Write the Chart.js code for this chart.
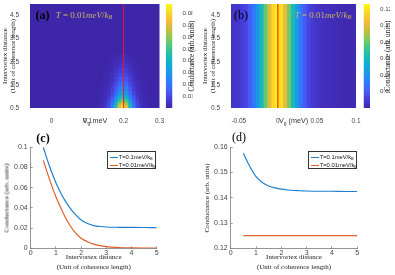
<!DOCTYPE html>
<html><head><meta charset="utf-8">
<script src="https://cdn.jsdelivr.net/npm/chart.js@4.4.1/dist/chart.umd.min.js"></script>
<style>
html,body{margin:0;padding:0;background:#fff;}
body{width:395px;height:275px;position:relative;overflow:hidden;}
canvas{position:absolute;left:0;top:0;z-index:1;}
.t{position:absolute;z-index:5;white-space:nowrap;line-height:1;transform:translate(-50%,-50%);}
.serif{font-family:"Liberation Serif","Times New Roman",serif;color:#1a1a1a;}
.sans{font-family:"Liberation Sans",Arial,sans-serif;color:#333;}
.rot{transform:translate(-50%,-50%) rotate(-90deg);text-align:center;}
.lbl{font-family:"Liberation Serif","Times New Roman",serif;font-size:12px;color:#000;}
.ann{font-family:"Liberation Serif","Times New Roman",serif;font-size:9px;color:#cdb85e;}
.leg{position:absolute;z-index:5;background:#fff;border:0.7px solid #333;box-sizing:border-box;}
.leg .row{position:absolute;left:0;height:8px;width:100%;}
.leg .ln{position:absolute;left:2px;width:8px;top:3.5px;height:1.2px;}
.leg .tx{position:absolute;left:11px;top:0;font-family:"Liberation Sans",Arial,sans-serif;font-size:5.8px;line-height:8px;color:#111;white-space:nowrap;}
sub{font-size:70%;vertical-align:-0.25em;line-height:0;}
</style></head><body>

<!-- panel (a) texts -->
<div class="t lbl" style="left:42.5px;top:15px;font-weight:bold;">(a)</div>
<div class="t ann" style="left:84px;top:15px;"><i>T</i> = 0.01<i>meV</i>/<i>k<sub>B</sub></i></div>
<div class="t serif rot" style="left:8.5px;top:56px;font-size:7px;line-height:8px;">Intervortex distance<br>(Unit of coherence length)</div>
<div class="t sans" style="left:95px;top:121px;font-size:7.2px;">V<sub>g</sub> meV</div>
<div class="t serif rot" style="left:193px;top:56px;font-size:7.2px;">Conductance (arb. units)</div>

<!-- panel (b) texts -->
<div class="t lbl" style="left:241px;top:15px;">(b)</div>
<div class="t ann" style="left:323px;top:15px;"><i>T</i> = 0.01<i>meV</i>/<i>k<sub>B</sub></i></div>
<div class="t serif rot" style="left:208.5px;top:56px;font-size:7px;line-height:8px;">Intervortex distance<br>(Unit of coherence length)</div>
<div class="t sans" style="left:293.5px;top:121px;font-size:7.2px;">V<sub>g</sub> (meV)</div>
<div class="t serif rot" style="left:389px;top:56px;font-size:7.2px;">Conductance (arb. units)</div>

<!-- panel (c) texts -->
<div class="t lbl" style="left:43px;top:138px;font-weight:bold;">(c)</div>
<div class="t serif rot" style="left:7px;top:198px;font-size:7px;">Conductance (arb. units)</div>
<div class="t serif" style="left:93.7px;top:257px;font-size:7px;">Intervortex distance</div>
<div class="t serif" style="left:93.7px;top:267px;font-size:7px;">(Unit of coherence length)</div>
<div class="leg" style="left:106.7px;top:150.7px;width:49.5px;height:18.6px;">
  <div class="row" style="top:1.5px;"><div class="ln" style="background:#1f7fcc"></div><div class="tx">T=0.1meV/k<sub>B</sub></div></div>
  <div class="row" style="top:9.5px;"><div class="ln" style="background:#e0602a"></div><div class="tx">T=0.01meV/k<sub>B</sub></div></div>
</div>

<!-- panel (d) texts -->
<div class="t lbl" style="left:239px;top:137px;">(d)</div>
<div class="t serif rot" style="left:207px;top:198px;font-size:7px;">Conductance (arb. units)</div>
<div class="t serif" style="left:294px;top:257px;font-size:7px;">Intervortex distance</div>
<div class="t serif" style="left:294px;top:267px;font-size:7px;">(Unit of coherence length)</div>
<div class="leg" style="left:307.7px;top:150.7px;width:49.5px;height:18.6px;">
  <div class="row" style="top:1.5px;"><div class="ln" style="background:#1f7fcc"></div><div class="tx">T=0.1meV/k<sub>B</sub></div></div>
  <div class="row" style="top:9.5px;"><div class="ln" style="background:#e0602a"></div><div class="tx">T=0.01meV/k<sub>B</sub></div></div>
</div>

<script>
// ---------------- DATA ----------------
// (a) heatmap: conductance vs gate voltage (columns) and intervortex distance (row bands)
const aVg = [0.14, 0.15, 0.16, 0.17, 0.18, 0.19, 0.20, 0.21, 0.22, 0.23, 0.24, 0.25, 0.26];
const aRowEdges = [0.5, 0.6, 0.7, 0.8, 0.9, 1.0, 1.2, 1.4, 1.6, 1.8, 2.0, 2.2, 2.4, 2.6, 2.8];
const aConductance = [
  [0.002, 0.004, 0.010, 0.022, 0.043, 0.070, 0.085, 0.070, 0.043, 0.022, 0.010, 0.004, 0.002],
  [0.0015, 0.004, 0.009, 0.020, 0.038, 0.062, 0.076, 0.062, 0.038, 0.020, 0.009, 0.004, 0.0015],
  [0.0013, 0.003, 0.008, 0.017, 0.032, 0.052, 0.064, 0.052, 0.032, 0.017, 0.008, 0.003, 0.0013],
  [0.001, 0.003, 0.006, 0.014, 0.027, 0.044, 0.054, 0.044, 0.027, 0.014, 0.006, 0.003, 0.001],
  [0.001, 0.002, 0.005, 0.012, 0.022, 0.037, 0.045, 0.037, 0.022, 0.012, 0.005, 0.002, 0.001],
  [0.0007, 0.002, 0.004, 0.009, 0.018, 0.029, 0.036, 0.029, 0.018, 0.009, 0.004, 0.002, 0.0007],
  [0.0005, 0.0013, 0.003, 0.007, 0.013, 0.022, 0.027, 0.022, 0.013, 0.007, 0.003, 0.0013, 0.0005],
  [0.0004, 0.001, 0.0024, 0.005, 0.010, 0.016, 0.020, 0.016, 0.010, 0.005, 0.0024, 0.001, 0.0004],
  [0.0003, 0.0007, 0.0018, 0.0039, 0.0075, 0.012, 0.015, 0.012, 0.0075, 0.0039, 0.0018, 0.0007, 0.0003],
  [0, 0.0005, 0.0013, 0.0029, 0.0055, 0.009, 0.011, 0.009, 0.0055, 0.0029, 0.0013, 0.0005, 0],
  [0, 0.0004, 0.001, 0.0021, 0.004, 0.0066, 0.008, 0.0066, 0.004, 0.0021, 0.001, 0.0004, 0],
  [0, 0, 0.0007, 0.0014, 0.0028, 0.0045, 0.0055, 0.0045, 0.0028, 0.0014, 0.0007, 0, 0],
  [0, 0, 0.0004, 0.0009, 0.0018, 0.0029, 0.0035, 0.0029, 0.0018, 0.0009, 0.0004, 0, 0],
  [0, 0, 0, 0.0005, 0.001, 0.0016, 0.002, 0.0016, 0.001, 0.0005, 0, 0, 0]
];
const aXTicks = [0, 0.1, 0.2, 0.3];
const aYTicks = [0.5, 1.5, 2.5, 3.5, 4.5];
const aColorTicks = [0.01, 0.02, 0.03, 0.04, 0.05, 0.06, 0.07, 0.08];
const aColorMax = 0.088;
const aMarkerVg = 0.2;

// (b) heatmap: conductance depends only on gate voltage
const bVg = [-0.06, -0.055, -0.05, -0.045, -0.04, -0.035, -0.03, -0.025, -0.02, -0.015, -0.01, -0.005, 0,
             0.005, 0.01, 0.015, 0.02, 0.025, 0.03, 0.035, 0.04, 0.045, 0.05, 0.055, 0.06, 0.065, 0.07,
             0.075, 0.08, 0.085, 0.09, 0.095, 0.1];
const bConductance = [0.006, 0.007, 0.008, 0.010, 0.014, 0.020, 0.030, 0.043, 0.060, 0.080, 0.100, 0.116, 0.124,
             0.118, 0.102, 0.082, 0.062, 0.044, 0.030, 0.020, 0.013, 0.009, 0.007, 0.0055, 0.0045, 0.0038, 0.0032,
             0.0027, 0.0023, 0.002, 0.0017, 0.0015, 0.0013];
const bXTicks = [-0.05, 0, 0.05, 0.1];
const bYTicks = [0.5, 1.5, 2.5, 3.5, 4.5];
const bColorTicks = [0.02, 0.04, 0.06, 0.08, 0.1, 0.12];
const bColorMax = 0.126;
const bMarkerVg = 0;

// (c), (d) line plots
const distance = [0.5, 0.75, 1, 1.25, 1.5, 1.75, 2, 2.25, 2.5, 2.75, 3, 3.5, 4, 4.5, 5];
const cHighT = [0.100, 0.081, 0.065, 0.052, 0.042, 0.034, 0.028, 0.0245, 0.0225, 0.0216, 0.0211, 0.0208, 0.0207, 0.0206, 0.0205];
const cLowT  = [0.087, 0.068, 0.051, 0.037, 0.025, 0.016, 0.010, 0.0065, 0.0042, 0.0027, 0.0017, 0.0008, 0.0004, 0.0002, 0.0001];
const dHighT = [0.1576, 0.1525, 0.1484, 0.1461, 0.1447, 0.1439, 0.1434, 0.1431, 0.1429, 0.1428, 0.1427, 0.1426, 0.1426, 0.1425, 0.1425];
const dLowT  = [0.125, 0.125, 0.125, 0.125, 0.125, 0.125, 0.125, 0.125, 0.125, 0.125, 0.125, 0.125, 0.125, 0.125, 0.125];
const cXTicks = [0, 1, 2, 3, 4, 5];
const cYTicks = [0, 0.02, 0.04, 0.06, 0.08, 0.1];
const dYTicks = [0.12, 0.13, 0.14, 0.15, 0.16];
const seriesNames = ['T=0.1meV/kB', 'T=0.01meV/kB'];

// ---------------- STYLE / HELPERS ----------------
const W = 395, H = 275;
const BLUE = '#1f7fcc', ORANGE = '#e0602a';
const PARULA = [
  [0.00, [62, 38, 168]], [0.08, [70, 60, 215]], [0.16, [70, 92, 245]], [0.25, [45, 125, 250]],
  [0.33, [30, 150, 230]], [0.42, [15, 174, 210]], [0.50, [28, 189, 180]], [0.58, [62, 199, 140]],
  [0.67, [132, 200, 90]], [0.75, [198, 190, 60]], [0.83, [246, 186, 60]], [0.92, [250, 216, 40]],
  [1.00, [249, 251, 14]]
];
function parula(t) {
  t = Math.max(0, Math.min(1, t));
  for (let i = 1; i < PARULA.length; i++) {
    if (t <= PARULA[i][0]) {
      const [t0, c0] = PARULA[i - 1], [t1, c1] = PARULA[i];
      const f = (t - t0) / (t1 - t0);
      return 'rgb(' + c0.map((c, k) => Math.round(c + (c1[k] - c) * f)).join(',') + ')';
    }
  }
  return 'rgb(249,251,14)';
}
function addCanvas() {
  const c = document.createElement('canvas');
  c.width = W; c.height = H; c.style.width = W + 'px'; c.style.height = H + 'px';
  document.body.appendChild(c);
  return c.getContext('2d');
}
const bgPlugin = {
  id: 'bg',
  beforeDatasetsDraw(chart, args, opts) {
    if (!opts || !opts.color) return;
    const {ctx, chartArea: a} = chart;
    ctx.save(); ctx.fillStyle = opts.color;
    ctx.fillRect(a.left, a.top, a.right - a.left, a.bottom - a.top);
    ctx.restore();
  }
};
const sansFam = '"Liberation Sans", Arial, sans-serif';
const base = {responsive: false, animation: false, devicePixelRatio: 1, events: []};
const fmt = v => String(v);

function heatScales(box, xMin, xMax, xTicks, yTicks) {
  return {
    x: {
      type: 'linear', min: xMin, max: xMax, offset: false, bounds: 'data',
      grid: {display: false, offset: false}, border: {display: false},
      afterBuildTicks: s => { s.ticks = xTicks.map(v => ({value: v})); },
      afterFit: s => { s.height = box.xH; s.paddingLeft = 0; s.paddingRight = 0; },
      ticks: {font: {family: sansFam, size: 6.5}, color: '#444', padding: 1, maxRotation: 0, autoSkip: false, callback: fmt}
    },
    y: {
      type: 'linear', min: 0.5, max: 5, bounds: 'data',
      grid: {display: false}, border: {display: false},
      afterBuildTicks: s => { s.ticks = yTicks.map(v => ({value: v})); },
      afterFit: s => { s.width = box.yW; s.paddingTop = 0; s.paddingBottom = 0; },
      ticks: {font: {family: sansFam, size: 6.5}, color: '#444', padding: 3, autoSkip: false, callback: fmt}
    }
  };
}
function boxPadding(b) {
  return {left: b.l - b.yW, top: b.t, right: W - b.r, bottom: H - b.b - b.xH};
}

// ---------------- (a) heatmap ----------------
(function () {
  const box = {l: 30, t: 4, r: 159.5, b: 108, yW: 30, xH: 20};
  const datasets = aConductance.map((row, i) => ({
    type: 'bar', order: 2, grouped: false, barPercentage: 1, categoryPercentage: 1,
    inflateAmount: 0.6, borderWidth: 0,
    data: aVg.map(x => ({x: x, y: [aRowEdges[i], aRowEdges[i + 1]]})),
    backgroundColor: row.map(v => parula(v / aColorMax))
  }));
  datasets.push({
    type: 'line', order: 0, data: [{x: aMarkerVg, y: 0.5}, {x: aMarkerVg, y: 5}],
    borderColor: 'rgba(214,28,60,0.9)', borderWidth: 1.2, pointRadius: 0
  });
  new Chart(addCanvas(), {
    type: 'bar', data: {datasets},
    plugins: [bgPlugin],
    options: Object.assign({}, base, {
      layout: {padding: boxPadding(box)},
      plugins: {legend: {display: false}, tooltip: {enabled: false}, bg: {color: parula(0)}},
      scales: heatScales(box, -0.06, 0.3, aXTicks, aYTicks)
    })
  });
})();

// ---------------- (b) heatmap ----------------
(function () {
  const box = {l: 231, t: 4, r: 356, b: 108, yW: 36, xH: 20};
  const datasets = [{
    type: 'bar', order: 2, grouped: false, barPercentage: 1, categoryPercentage: 1,
    inflateAmount: 0.6, borderWidth: 0,
    data: bVg.map(x => ({x: x, y: [0.5, 5]})),
    backgroundColor: bConductance.map(v => parula(v / bColorMax))
  }, {
    type: 'line', order: 0, data: [{x: bMarkerVg, y: 0.5}, {x: bMarkerVg, y: 5}],
    borderColor: '#ff1a1a', borderWidth: 1.2, pointRadius: 0
  }];
  new Chart(addCanvas(), {
    type: 'bar', data: {datasets},
    plugins: [bgPlugin],
    options: Object.assign({}, base, {
      layout: {padding: boxPadding(box)},
      plugins: {legend: {display: false}, tooltip: {enabled: false}, bg: {color: parula(0)}},
      scales: heatScales(box, -0.06, 0.1, bXTicks, bYTicks)
    })
  });
})();

// ---------------- colorbars ----------------
function colorbar(box, cmax, ticks) {
  new Chart(addCanvas(), {
    type: 'bar',
    data: {labels: ['cb'], datasets: [{
      data: [[0, cmax]], barPercentage: 1, categoryPercentage: 1, borderWidth: 0, inflateAmount: 0,
      backgroundColor: (ctx) => {
        const a = ctx.chart.chartArea;
        if (!a) return parula(0.5);
        const g = ctx.chart.ctx.createLinearGradient(0, a.bottom, 0, a.top);
        PARULA.forEach(([t, c]) => g.addColorStop(t, 'rgb(' + c.join(',') + ')'));
        return g;
      }
    }]},
    options: Object.assign({}, base, {
      layout: {padding: {left: box.l, top: box.t, right: W - box.r - box.yW, bottom: H - box.b}},
      plugins: {legend: {display: false}, tooltip: {enabled: false}},
      scales: {
        x: {display: false},
        y: {
          position: 'right', min: 0, max: cmax, bounds: 'data',
          grid: {display: false}, border: {display: false},
          afterBuildTicks: s => { s.ticks = ticks.map(v => ({value: v})); },
          afterFit: s => { s.width = box.yW; s.paddingTop = 0; s.paddingBottom = 0; },
          ticks: {font: {family: sansFam, size: 6.2}, color: '#444', padding: 2, autoSkip: false, callback: fmt}
        }
      }
    })
  });
}
colorbar({l: 165.7, t: 4, r: 172.5, b: 108, yW: 20}, aColorMax, aColorTicks);
colorbar({l: 363.5, t: 4, r: 370, b: 108, yW: 20}, bColorMax, bColorTicks);

// ---------------- line charts ----------------
function lineChart(box, high, low, yMin, yMax, yTicks) {
  const ds = (vals, color, name) => ({
    label: name, data: distance.map((x, i) => ({x: x, y: vals[i]})),
    borderColor: color, borderWidth: 1.2, pointRadius: 0, fill: false,
    cubicInterpolationMode: 'monotone'
  });
  new Chart(addCanvas(), {
    type: 'line',
    data: {datasets: [ds(high, BLUE, seriesNames[0]), ds(low, ORANGE, seriesNames[1])]},
    options: Object.assign({}, base, {
      layout: {padding: boxPadding(box)},
      plugins: {legend: {display: false}, tooltip: {enabled: false}},
      scales: {
        x: {
          type: 'linear', min: 0, max: 5, bounds: 'data',
          grid: {display: true, drawOnChartArea: false, drawTicks: true, tickLength: -2, tickColor: '#7a7a7a', tickWidth: 0.7},
          border: {display: true, color: '#7a7a7a', width: 0.8},
          afterBuildTicks: s => { s.ticks = cXTicks.map(v => ({value: v})); },
          afterFit: s => { s.height = box.xH; s.paddingLeft = 0; s.paddingRight = 0; },
          ticks: {font: {family: sansFam, size: 7}, color: '#444', padding: 3, maxRotation: 0, autoSkip: false, callback: fmt}
        },
        y: {
          type: 'linear', min: yMin, max: yMax, bounds: 'data',
          grid: {display: true, drawOnChartArea: false, drawTicks: true, tickLength: -2, tickColor: '#7a7a7a', tickWidth: 0.7},
          border: {display: true, color: '#7a7a7a', width: 0.8},
          afterBuildTicks: s => { s.ticks = yTicks.map(v => ({value: v})); },
          afterFit: s => { s.width = box.yW; s.paddingTop = 0; s.paddingBottom = 0; },
          ticks: {font: {family: sansFam, size: 7}, color: '#444', padding: 5, autoSkip: false, callback: fmt}
        }
      }
    })
  });
}
lineChart({l: 30.7, t: 147.3, r: 156.7, b: 248.3, yW: 30, xH: 12}, cHighT, cLowT, 0, 0.1, cYTicks);
lineChart({l: 230.7, t: 147.3, r: 357.3, b: 248.3, yW: 30, xH: 12}, dHighT, dLowT, 0.12, 0.16, dYTicks);
</script>
</body></html>
